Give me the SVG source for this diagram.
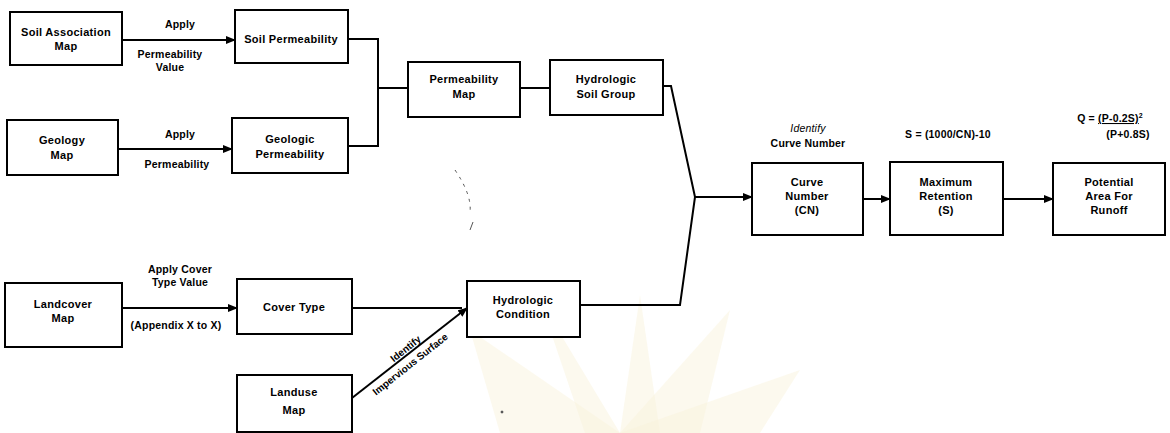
<svg xmlns="http://www.w3.org/2000/svg" width="1170" height="433" viewBox="0 0 1170 433">
  <defs>
    <style>
      .box { fill: #ffffff; stroke: #000000; stroke-width: 2; }
      .lbl { font-family: "Liberation Sans", Arial, sans-serif; font-size: 11px; font-weight: bold; letter-spacing: 0.3px; fill: #000000; text-anchor: middle; }
      .note { font-family: "Liberation Sans", Arial, sans-serif; font-size: 10.5px; font-weight: bold; letter-spacing: 0.2px; fill: #000000; text-anchor: middle; }
      .ital { font-style: italic; font-weight: normal; }
      .diag { font-family: "Liberation Sans", Arial, sans-serif; font-size: 10px; font-weight: bold; fill: #000000; text-anchor: middle; }
      .wire { fill: none; stroke: #000000; stroke-width: 2; stroke-linejoin: miter; }
      .arr { marker-end: url(#head); }
      .wm { fill: #f8f1da; opacity: 0.45; }
    </style>
    <marker id="head" markerUnits="userSpaceOnUse" markerWidth="10" markerHeight="8" refX="9" refY="4" orient="auto">
      <path d="M0,0 L10,4 L0,8 z" fill="#000000"/>
    </marker>
  </defs>

  <rect width="1170" height="433" fill="#ffffff"/>

  <!-- faint background seal -->
  <g id="seal">
    <polygon class="wm" points="620,433 470,330 500,433"/>
    <polygon class="wm" points="620,433 540,300 585,433"/>
    <polygon class="wm" points="620,433 640,295 660,433"/>
    <polygon class="wm" points="620,433 730,310 700,433"/>
    <polygon class="wm" points="620,433 800,370 760,433"/>
  </g>

  <!-- stray marks -->
  <g id="specks" fill="none" stroke="#555555" stroke-width="1">
    <path d="M455,170 Q472,195 470,212" stroke-dasharray="3,5"/>
    <path d="M473,222 L470,230"/>
    <circle cx="502" cy="412" r="1" fill="#333333"/>
  </g>

  <!-- connectors -->
  <g id="connectors">
    <line class="wire arr" x1="122" y1="40" x2="235" y2="40"/>
    <line class="wire arr" x1="118" y1="149" x2="232" y2="149"/>
    <polyline class="wire" points="348,39 378,39 378,146 348,146"/>
    <line class="wire" x1="378" y1="88" x2="408" y2="88"/>
    <line class="wire" x1="520" y1="88" x2="550" y2="88"/>
    <polyline class="wire" points="663,86 671,86 695,197"/>
    <polyline class="wire" points="580,305 680,305 695,197"/>
    <line class="wire arr" x1="695" y1="197" x2="752" y2="197"/>
    <line class="wire arr" x1="863" y1="199" x2="890" y2="199"/>
    <line class="wire arr" x1="1003" y1="199" x2="1053" y2="199"/>
    <line class="wire arr" x1="122" y1="308" x2="237" y2="308"/>
    <line class="wire" x1="352" y1="308" x2="462" y2="308"/>
    <line class="wire arr" x1="352" y1="398" x2="467" y2="308"/>

    <text class="note" x="180" y="28">Apply</text>
    <text class="note" x="170" y="58">Permeability</text>
    <text class="note" x="170" y="71">Value</text>

    <text class="note" x="180" y="138">Apply</text>
    <text class="note" x="177" y="168">Permeability</text>

    <text class="note" x="180" y="273">Apply Cover</text>
    <text class="note" x="180" y="286">Type Value</text>
    <text class="note" x="176" y="329">(Appendix X to X)</text>

    <g transform="translate(409,353) rotate(-38.5)">
      <text class="diag" x="0" y="-2">Identify</text>
      <text class="diag" x="-6" y="13">Impervious Surface</text>
    </g>

    <text class="note ital" x="808" y="132">Identify</text>
    <text class="note" x="808" y="147">Curve Number</text>
    <text class="note" x="948" y="138">S = (1000/CN)-10</text>
    <text class="note" x="1110" y="122">Q = <tspan text-decoration="underline">(P-0.2S)</tspan><tspan dy="-4" font-size="7px">2</tspan></text>
    <text class="note" x="1128" y="138">(P+0.8S)</text>
  </g>

  <!-- nodes -->
  <g id="soil-association-map">
    <rect class="box" x="10" y="12" width="112" height="53"/>
    <text class="lbl" x="66" y="36">Soil Association</text>
    <text class="lbl" x="66" y="50">Map</text>
  </g>
  <g id="soil-permeability">
    <rect class="box" x="235" y="10" width="113" height="53"/>
    <text class="lbl" x="291" y="43">Soil Permeability</text>
  </g>
  <g id="geology-map">
    <rect class="box" x="7" y="120" width="111" height="55"/>
    <text class="lbl" x="62" y="144">Geology</text>
    <text class="lbl" x="62" y="159">Map</text>
  </g>
  <g id="geologic-permeability">
    <rect class="box" x="232" y="118" width="116" height="55"/>
    <text class="lbl" x="290" y="143">Geologic</text>
    <text class="lbl" x="290" y="158">Permeability</text>
  </g>
  <g id="permeability-map">
    <rect class="box" x="408" y="62" width="112" height="55"/>
    <text class="lbl" x="464" y="83">Permeability</text>
    <text class="lbl" x="464" y="98">Map</text>
  </g>
  <g id="hydrologic-soil-group">
    <rect class="box" x="550" y="60" width="113" height="55"/>
    <text class="lbl" x="606" y="83">Hydrologic</text>
    <text class="lbl" x="606" y="98">Soil Group</text>
  </g>
  <g id="landcover-map">
    <rect class="box" x="5" y="283" width="117" height="64"/>
    <text class="lbl" x="63" y="308">Landcover</text>
    <text class="lbl" x="63" y="322">Map</text>
  </g>
  <g id="cover-type">
    <rect class="box" x="237" y="279" width="115" height="55"/>
    <text class="lbl" x="294" y="311">Cover Type</text>
  </g>
  <g id="landuse-map">
    <rect class="box" x="237" y="375" width="115" height="57"/>
    <text class="lbl" x="294" y="396">Landuse</text>
    <text class="lbl" x="294" y="414">Map</text>
  </g>
  <g id="hydrologic-condition">
    <rect class="box" x="467" y="281" width="113" height="56"/>
    <text class="lbl" x="523" y="304">Hydrologic</text>
    <text class="lbl" x="523" y="318">Condition</text>
  </g>
  <g id="curve-number">
    <rect class="box" x="752" y="163" width="111" height="72"/>
    <text class="lbl" x="807" y="186">Curve</text>
    <text class="lbl" x="807" y="200">Number</text>
    <text class="lbl" x="807" y="214">(CN)</text>
  </g>
  <g id="maximum-retention">
    <rect class="box" x="890" y="162" width="113" height="73"/>
    <text class="lbl" x="946" y="186">Maximum</text>
    <text class="lbl" x="946" y="200">Retention</text>
    <text class="lbl" x="946" y="214">(S)</text>
  </g>
  <g id="potential-area">
    <rect class="box" x="1053" y="163" width="112" height="72"/>
    <text class="lbl" x="1109" y="186">Potential</text>
    <text class="lbl" x="1109" y="200">Area For</text>
    <text class="lbl" x="1109" y="214">Runoff</text>
  </g>
</svg>
